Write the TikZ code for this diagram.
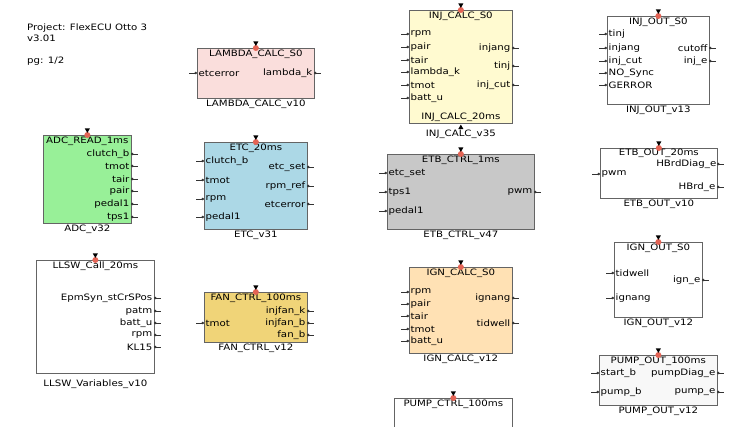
\documentclass[tikz,border=0pt]{standalone}
\usepackage{fontspec}
\setmainfont{DejaVu Sans}[FakeStretch=1.16]
\usetikzlibrary{positioning,arrows.meta,shapes.geometric}

\definecolor{lampink}{RGB}{250,222,220}
\definecolor{injyellow}{RGB}{255,250,208}
\definecolor{adcgreen}{RGB}{152,240,152}
\definecolor{etcblue}{RGB}{172,216,230}
\definecolor{etbgrey}{RGB}{200,200,200}
\definecolor{fangold}{RGB}{240,212,120}
\definecolor{ignorange}{RGB}{255,225,180}
\definecolor{pumpwhite}{RGB}{248,248,248}
\definecolor{tickred}{RGB}{228,100,85}
\definecolor{framegrey}{RGB}{100,100,100}

\begin{document}
\begin{tikzpicture}[
    x=1pt, y=-1pt,
    every node/.style={font=\fontsize{8.8}{11}\selectfont, text=black},
    block/.style={draw=framegrey, line width=0.7pt, anchor=north west, inner sep=0pt},
    title/.style={inner sep=1.5pt},
    version/.style={inner sep=1pt},
    inport/.style={anchor=west, inner sep=1.5pt},
    outport/.style={anchor=east, inner sep=1.5pt},
    stub/.style={{Circle[length=2.4pt]}-, line width=0.6pt, draw=black!80},
    tickdot/.style={circle, fill=tickred, minimum size=6pt, inner sep=0pt},
    ticktri/.style={regular polygon, regular polygon sides=3, shape border rotate=180,
                    fill=black, minimum size=6pt, inner sep=0pt}
]

    \useasboundingbox (0,0) rectangle (729,427);
    \clip (0,0) rectangle (729,427);

    % Project header
    \node[anchor=north west, align=left, inner sep=0pt] (proj) at (27,24)
        {Project: FlexECU Otto 3\\ v3.01\\[11pt] pg: 1/2};

    % LAMBDA_CALC block
    \node[block, fill=lampink, minimum width=117pt, minimum height=50pt] (lam) at (197,48) {};
    \node[title, below=0pt of lam.north] (lam-t) {LAMBDA\_CALC\_S0};
    \node[version, below=0pt of lam.south] (lam-v) {LAMBDA\_CALC\_v10};
    \node[inport] (lam-etcerror) at (197,73) {etcerror};
    \node[outport] (lam-lambda) at (314,73) {lambda\_k};

    % INJ_CALC block
    \node[block, fill=injyellow, minimum width=103pt, minimum height=113pt] (injc) at (409,10) {};
    \node[title, below=0pt of injc.north] (injc-t) {INJ\_CALC\_S0};
    \node[title, above=0pt of injc.south] (injc-b) {INJ\_CALC\_20ms};
    \node[version, below=5pt of injc.south] (injc-v) {INJ\_CALC\_v35};
    \node[inport] (injc-rpm) at (409,34) {rpm};
    \node[inport] (injc-pair) at (409,47) {pair};
    \node[inport] (injc-tair) at (409,60) {tair};
    \node[inport] (injc-lambda) at (409,72) {lambda\_k};
    \node[inport] (injc-tmot) at (409,85) {tmot};
    \node[inport] (injc-batt) at (409,98) {batt\_u};
    \node[outport] (injc-injang) at (512,48) {injang};
    \node[outport] (injc-tinj) at (512,66) {tinj};
    \node[outport] (injc-injcut) at (512,85) {inj\_cut};

    % INJ_OUT block
    \node[block, fill=white, minimum width=102pt, minimum height=88pt] (injo) at (607,16) {};
    \node[title, below=0pt of injo.north] (injo-t) {INJ\_OUT\_S0};
    \node[version, below=0pt of injo.south] (injo-v) {INJ\_OUT\_v13};
    \node[inport] (injo-tinj) at (607,34) {tinj};
    \node[inport] (injo-injang) at (607,48) {injang};
    \node[inport] (injo-injcut) at (607,61) {inj\_cut};
    \node[inport] (injo-nosync) at (607,73) {NO\_Sync};
    \node[inport] (injo-gerror) at (607,85) {GERROR};
    \node[outport] (injo-cutoff) at (709,48) {cutoff};
    \node[outport] (injo-inje) at (709,61) {inj\_e};

    % ADC_READ block
    \node[block, fill=adcgreen, minimum width=88pt, minimum height=88pt] (adc) at (43,135) {};
    \node[title, below=0pt of adc.north] (adc-t) {ADC\_READ\_1ms};
    \node[version, below=0pt of adc.south] (adc-v) {ADC\_v32};
    \node[outport] (adc-clutch) at (131,154) {clutch\_b};
    \node[outport] (adc-tmot) at (131,166) {tmot};
    \node[outport] (adc-tair) at (131,179) {tair};
    \node[outport] (adc-pair) at (131,191) {pair};
    \node[outport] (adc-pedal) at (131,204) {pedal1};
    \node[outport] (adc-tps) at (131,217) {tps1};

    % ETC block
    \node[block, fill=etcblue, minimum width=103pt, minimum height=87pt] (etc) at (204,142) {};
    \node[title, below=0pt of etc.north] (etc-t) {ETC\_20ms};
    \node[version, below=0pt of etc.south] (etc-v) {ETC\_v31};
    \node[inport] (etc-clutch) at (204,161) {clutch\_b};
    \node[inport] (etc-tmot) at (204,180) {tmot};
    \node[inport] (etc-rpm) at (204,199) {rpm};
    \node[inport] (etc-pedal) at (204,217) {pedal1};
    \node[outport] (etc-set) at (307,167) {etc\_set};
    \node[outport] (etc-rpmref) at (307,186) {rpm\_ref};
    \node[outport] (etc-err) at (307,204) {etcerror};

    % ETB_CTRL block
    \node[block, fill=etbgrey, minimum width=147pt, minimum height=75pt] (etbc) at (387,154) {};
    \node[title, below=0pt of etbc.north] (etbc-t) {ETB\_CTRL\_1ms};
    \node[version, below=0pt of etbc.south] (etbc-v) {ETB\_CTRL\_v47};
    \node[inport] (etbc-set) at (387,173) {etc\_set};
    \node[inport] (etbc-tps) at (387,192) {tps1};
    \node[inport] (etbc-pedal) at (387,211) {pedal1};
    \node[outport] (etbc-pwm) at (534,192) {pwm};

    % ETB_OUT block
    \node[block, fill=white, minimum width=117pt, minimum height=50pt] (etbo) at (600,148) {};
    \node[title, inner sep=0.5pt, below=0pt of etbo.north] (etbo-t) {ETB\_OUT\_20ms};
    \node[version, below=0pt of etbo.south] (etbo-v) {ETB\_OUT\_v10};
    \node[inport] (etbo-pwm) at (600,174) {pwm};
    \node[outport, inner sep=0.5pt] (etbo-diag) at (717,164) {HBrdDiag\_e};
    \node[outport] (etbo-hbrd) at (717,187) {HBrd\_e};

    % LLSW block
    \node[block, fill=white, minimum width=118pt, minimum height=113pt] (llsw) at (36,260) {};
    \node[title, below=0pt of llsw.north] (llsw-t) {LLSW\_Call\_20ms};
    \node[version, below=5pt of llsw.south] (llsw-v) {LLSW\_Variables\_v10};
    \node[outport] (llsw-epm) at (154,298) {EpmSyn\_stCrSPos};
    \node[outport] (llsw-patm) at (154,311) {patm};
    \node[outport] (llsw-batt) at (154,323) {batt\_u};
    \node[outport] (llsw-rpm) at (154,335) {rpm};
    \node[outport] (llsw-kl) at (154,347) {KL15};

    % FAN_CTRL block
    \node[block, fill=fangold, minimum width=103pt, minimum height=50pt] (fan) at (204,292) {};
    \node[title, below=0pt of fan.north] (fan-t) {FAN\_CTRL\_100ms};
    \node[version, below=0pt of fan.south] (fan-v) {FAN\_CTRL\_v12};
    \node[inport] (fan-tmot) at (204,323) {tmot};
    \node[outport] (fan-injk) at (307,311) {injfan\_k};
    \node[outport] (fan-injb) at (307,323) {injfan\_b};
    \node[outport] (fan-fanb) at (307,335) {fan\_b};

    % IGN_CALC block
    \node[block, fill=ignorange, minimum width=103pt, minimum height=86pt] (ignc) at (409,267) {};
    \node[title, below=0pt of ignc.north] (ignc-t) {IGN\_CALC\_S0};
    \node[version, below=0pt of ignc.south] (ignc-v) {IGN\_CALC\_v12};
    \node[inport] (ignc-rpm) at (409,292) {rpm};
    \node[inport] (ignc-pair) at (409,304) {pair};
    \node[inport] (ignc-tair) at (409,316) {tair};
    \node[inport] (ignc-tmot) at (409,329) {tmot};
    \node[inport] (ignc-batt) at (409,341) {batt\_u};
    \node[outport] (ignc-ignang) at (512,298) {ignang};
    \node[outport] (ignc-dwell) at (512,323) {tidwell};

    % PUMP_CTRL block (cut by the page edge)
    \node[block, fill=white, minimum width=118pt, minimum height=60pt] (pumpc) at (394,398) {};
    \node[title, below=0pt of pumpc.north] (pumpc-t) {PUMP\_CTRL\_100ms};

    % IGN_OUT block
    \node[block, fill=white, minimum width=88pt, minimum height=75pt] (igno) at (614,242) {};
    \node[title, below=0pt of igno.north] (igno-t) {IGN\_OUT\_S0};
    \node[version, below=0pt of igno.south] (igno-v) {IGN\_OUT\_v12};
    \node[inport] (igno-dwell) at (614,273) {tidwell};
    \node[inport] (igno-ignang) at (614,298) {ignang};
    \node[outport] (igno-igne) at (702,280) {ign\_e};

    % PUMP_OUT block
    \node[block, fill=pumpwhite, minimum width=118pt, minimum height=50pt] (pumpo) at (599,355) {};
    \node[title, below=0pt of pumpo.north] (pumpo-t) {PUMP\_OUT\_100ms};
    \node[version, below=0pt of pumpo.south] (pumpo-v) {PUMP\_OUT\_v12};
    \node[inport] (pumpo-start) at (599,373) {start\_b};
    \node[inport] (pumpo-pumpb) at (599,392) {pump\_b};
    \node[outport] (pumpo-diag) at (717,373) {pumpDiag\_e};
    \node[outport] (pumpo-pumpe) at (717,392) {pump\_e};

    % Input stubs
    \foreach \p in {lam-etcerror, injc-rpm, injc-pair, injc-tair, injc-lambda, injc-tmot, injc-batt,
                    injo-tinj, injo-injang, injo-injcut, injo-nosync, injo-gerror,
                    etc-clutch, etc-tmot, etc-rpm, etc-pedal, etbc-set, etbc-tps, etbc-pedal,
                    etbo-pwm, fan-tmot, ignc-rpm, ignc-pair, ignc-tair, ignc-tmot, ignc-batt,
                    igno-dwell, igno-ignang, pumpo-start, pumpo-pumpb}
        \draw[stub] (\p.west) -- ++(-8,0);

    % Output stubs
    \foreach \p in {lam-lambda, injc-injang, injc-tinj, injc-injcut, injo-cutoff, injo-inje,
                    adc-clutch, adc-tmot, adc-tair, adc-pair, adc-pedal, adc-tps,
                    etc-set, etc-rpmref, etc-err, etbc-pwm, etbo-diag, etbo-hbrd,
                    llsw-epm, llsw-patm, llsw-batt, llsw-rpm, llsw-kl,
                    fan-injk, fan-injb, fan-fanb, ignc-ignang, ignc-dwell,
                    igno-igne, pumpo-diag, pumpo-pumpe}
        \draw[stub] (\p.east) -- ++(7,0);

    % Trigger markers on top of each block
    \foreach \b in {lam, injc, injo, adc, etc, etbc, etbo, llsw, fan, ignc, pumpc, igno, pumpo} {
        \node[tickdot] (\b-dot) at (\b.north) {};
        \node[ticktri, above=-1.5pt of \b-dot] (\b-tri) {};
    }
    \node[ticktri, shape border rotate=0, below=0.5pt of injc.south] (injc-up) {};

\end{tikzpicture}
\end{document}
